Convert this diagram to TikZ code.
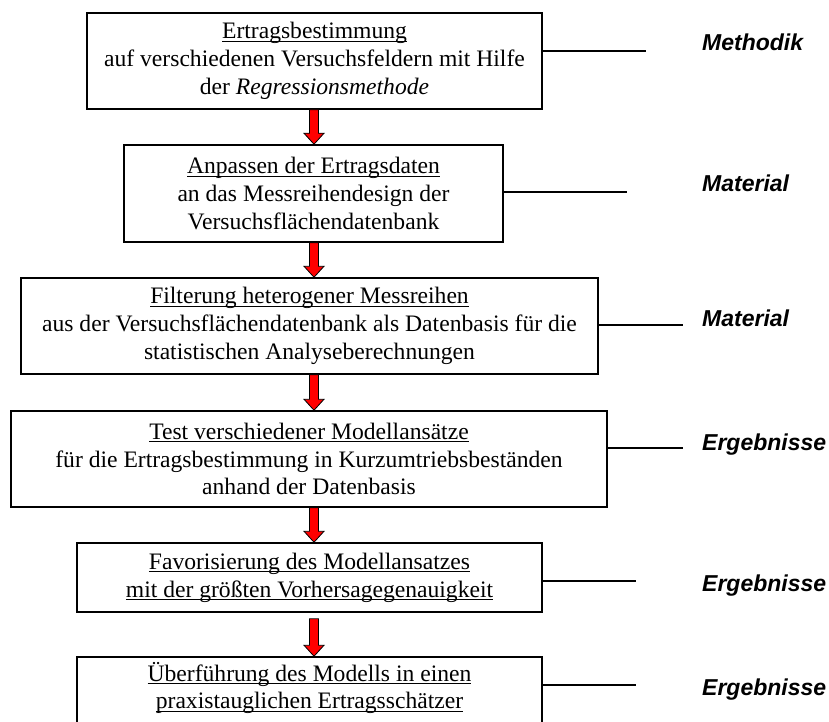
\documentclass[tikz,border=0pt]{standalone}
\usepackage{fontspec}
\setmainfont{Liberation Serif}
\newfontfamily\labfont{Liberation Sans}
\newcommand\myul[1]{\setbox0\hbox{#1}\rlap{\rule[-3.2pt]{\wd0}{1.1pt}}\box0}
\usetikzlibrary{calc}
\newcommand\redarrow[3]{%
  \draw[arrowshape] ($(#1.south -| ax)+(-4.5,#3)$) -- ($(#2.north -| ax)+(-4.5,-11)$) -- ($(#2.north -| ax)+(-10,-11)$) -- (#2.north -| ax) -- ($(#2.north -| ax)+(10,-11)$) -- ($(#2.north -| ax)+(4.5,-11)$) -- ($(#1.south -| ax)+(4.5,#3)$) -- cycle;}
\begin{document}
\begin{tikzpicture}[x=1pt,y=-1pt,
  box/.style={draw, line width=1.5pt, inner sep=0pt, align=center, font=\fontsize{23.6}{27.8}\selectfont},
  txt/.style={inner sep=0pt, align=center, font=\fontsize{23.6}{27.8}\selectfont},
  conn/.style={draw, line width=1.3pt},
  lab/.style={inner sep=0pt, anchor=base west, font=\labfont\bfseries\itshape\fontsize{23}{27}\selectfont},
  arrowshape/.style={fill=red, draw=black, line width=0.8pt, line join=miter}]
\useasboundingbox (0,0) rectangle (829,722);
\clip (0,0) rectangle (829,722);

\node[box, minimum width=455pt, minimum height=96pt] (b1) at (314.5,61)
  {\myul{Ertragsbestimmung}\\auf verschiedenen Versuchsfeldern mit Hilfe\\der \textit{Regressionsmethode}};
\node[box, minimum width=379pt, minimum height=97pt] (b2) at (313.5,193.5)
  {\myul{Anpassen der Ertragsdaten}\\an das Messreihendesign der\\Versuchsflächendatenbank};
\node[box, minimum width=577pt, minimum height=96pt] (b3) at (309.5,326)
  {\myul{Filterung heterogener Messreihen}\\aus der Versuchsflächendatenbank als Datenbasis für die\\statistischen Analyseberechnungen};
\node[box, minimum width=596pt, minimum height=96pt] (b4) at (309,459)
  {\myul{Test verschiedener Modellansätze}\\für die Ertragsbestimmung in Kurzumtriebsbeständen\\anhand der Datenbasis};
\node[box, minimum width=465pt, minimum height=69pt] (b5) at (309.5,577.5)
  {\myul{Favorisierung des Modellansatzes}\\\myul{mit der größten Vorhersagegenauigkeit}};
\node[box, minimum width=465pt, minimum height=80pt] (b6) at (309.5,697) {};
\node[txt] (t6) at (309.5,688)
  {\myul{Überführung des Modells in einen}\\\myul{praxistauglichen Ertragsschätzer}};

\coordinate (ax) at (314,0);
\redarrow{b1}{b2}{0}
\redarrow{b2}{b3}{0}
\redarrow{b3}{b4}{0}
\redarrow{b4}{b5}{0}
\redarrow{b5}{b6}{6}

\coordinate (e1) at (646,51);
\coordinate (e2) at (627,192);
\coordinate (e3) at (683,325);
\coordinate (e4) at (683,448);
\coordinate (e5) at (636,581);
\coordinate (e6) at (636,685);
\draw[conn] (b1.east |- e1) -- (e1);
\draw[conn] (b2.east |- e2) -- (e2);
\draw[conn] (b3.east |- e3) -- (e3);
\draw[conn] (b4.east |- e4) -- (e4);
\draw[conn] (b5.east |- e5) -- (e5);
\draw[conn] (b6.east |- e6) -- (e6);

\node[lab] (l1) at (702,51) {Methodik};
\node[lab] (l2) at (702,192) {Material};
\node[lab] (l3) at (702,326) {Material};
\node[lab] (l4) at (702,450) {Ergebnisse};
\node[lab] (l5) at (702,591) {Ergebnisse};
\node[lab] (l6) at (702,695) {Ergebnisse};
\end{tikzpicture}
\end{document}
